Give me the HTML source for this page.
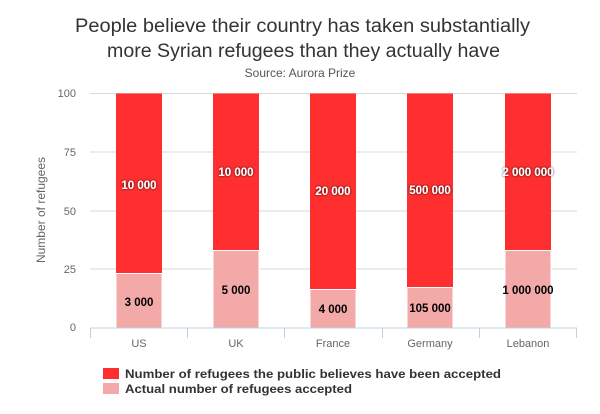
<!DOCTYPE html>
<html><head><meta charset="utf-8"><style>
body{margin:0;background:#fff;width:600px;height:409px;overflow:hidden;font-family:"Liberation Sans",sans-serif}
</style></head><body>
<svg width="600" height="409" xmlns="http://www.w3.org/2000/svg" font-family="Liberation Sans, sans-serif">
<defs><filter id="s" x="-20%" y="-50%" width="140%" height="200%"><feGaussianBlur in="SourceAlpha" stdDeviation="1.2"/><feComponentTransfer><feFuncA type="linear" slope="0.9"/></feComponentTransfer><feMerge><feMergeNode/><feMergeNode in="SourceGraphic"/></feMerge></filter></defs>
<text x="75" y="32" textLength="455" lengthAdjust="spacingAndGlyphs" font-size="19" fill="#333">People believe their country has taken substantially</text>
<text x="107" y="57" textLength="393" lengthAdjust="spacingAndGlyphs" font-size="19" fill="#333">more Syrian refugees than they actually have</text>
<text x="300" y="77" text-anchor="middle" font-size="12" fill="#555">Source: Aurora Prize</text>
<g stroke="#d8d8d8" stroke-width="1">
<line x1="90" x2="577" y1="93.5" y2="93.5"/><line x1="90" x2="577" y1="152" y2="152"/><line x1="90" x2="577" y1="211" y2="211"/><line x1="90" x2="577" y1="269" y2="269"/></g>
<g font-size="11" fill="#666" text-anchor="end">
<text x="76" y="97">100</text><text x="76" y="156">75</text><text x="76" y="215">50</text><text x="76" y="273">25</text><text x="76" y="331">0</text></g>
<text transform="translate(45,210) rotate(-90)" text-anchor="middle" font-size="12" fill="#666">Number of refugees</text>
<g fill="#ff2f2f">
<rect x="116" y="93.5" width="46" height="180"/><rect x="213" y="93.5" width="46" height="157"/><rect x="310" y="93.5" width="46" height="196"/><rect x="407" y="93.5" width="46" height="194"/><rect x="505" y="93.5" width="46" height="157"/></g>
<g fill="#f4a9a9" stroke="#fff" stroke-width="1">
<rect x="116" y="273.5" width="46" height="54.5"/><rect x="213" y="250.5" width="46" height="77.5"/><rect x="310" y="289.5" width="46" height="38.5"/><rect x="407" y="287.5" width="46" height="40.5"/><rect x="505" y="250.5" width="46" height="77.5"/></g>
<g stroke="#c0d0e0" stroke-width="1"><line x1="90" x2="577" y1="328" y2="328"/>
<line x1="90.5" x2="90.5" y1="328" y2="338"/><line x1="187.5" x2="187.5" y1="328" y2="338"/><line x1="284.5" x2="284.5" y1="328" y2="338"/><line x1="382.5" x2="382.5" y1="328" y2="338"/><line x1="479.5" x2="479.5" y1="328" y2="338"/><line x1="576.5" x2="576.5" y1="328" y2="338"/></g>
<g font-size="11" fill="#666" text-anchor="middle">
<text x="139" y="347">US</text><text x="236" y="347">UK</text><text x="333" y="347">France</text><text x="430" y="347">Germany</text><text x="528" y="347">Lebanon</text></g>
<g font-size="11.5" font-weight="bold" fill="#fff" text-anchor="middle" filter="url(#s)">
<text x="139" y="189">10 000</text><text x="236" y="176">10 000</text><text x="333" y="195">20 000</text><text x="430" y="194">500 000</text><text x="528" y="176">2 000 000</text></g>
<g font-size="11.5" font-weight="bold" fill="#000" text-anchor="middle">
<text x="139" y="306">3 000</text><text x="236" y="294">5 000</text><text x="333" y="313">4 000</text><text x="430" y="312">105 000</text><text x="528" y="294">1 000 000</text></g>
<rect x="103" y="368" width="16" height="11" fill="#ff2f2f"/>
<rect x="103" y="383" width="16" height="11" fill="#f4a9a9"/>
<g font-size="12" font-weight="bold" fill="#333">
<text x="125" y="378" textLength="376" lengthAdjust="spacingAndGlyphs">Number of refugees the public believes have been accepted</text>
<text x="125" y="393" textLength="227" lengthAdjust="spacingAndGlyphs">Actual number of refugees accepted</text></g>
</svg>
</body></html>
